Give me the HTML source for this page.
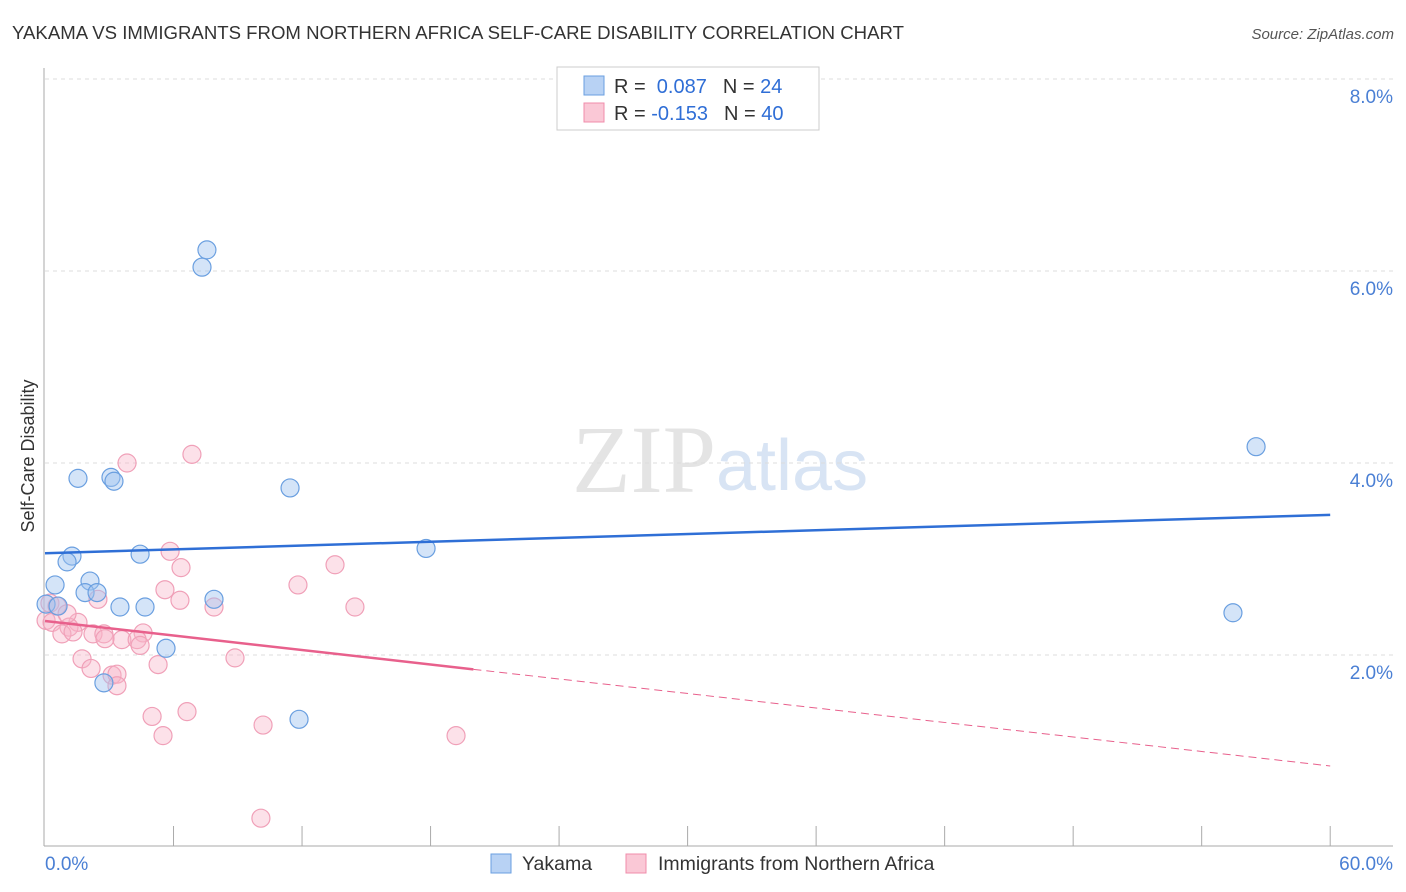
<!DOCTYPE html>
<html><head><meta charset="utf-8">
<style>
body{margin:0;background:#fff;font-family:"Liberation Sans",sans-serif;}
svg{display:block}
</style></head>
<body>
<svg id="chart" width="1406" height="892">
<text x="12" y="39" font-size="18.6" fill="#333">YAKAMA VS IMMIGRANTS FROM NORTHERN AFRICA SELF-CARE DISABILITY CORRELATION CHART</text>
<text x="1394" y="39" font-size="15" fill="#555" font-style="italic" text-anchor="end">Source: ZipAtlas.com</text>
<text x="716" y="492" font-size="96" fill="#e4e4e4" text-anchor="end" font-family="Liberation Serif,serif">ZIP</text>
<text x="716" y="490" font-size="72" fill="#d8e4f4">atlas</text>
<g id="grid"></g>
<g id="axes"></g>
<g id="marks"></g>
<text transform="translate(34,456) rotate(-90)" font-size="18" fill="#333" text-anchor="middle">Self-Care Disability</text>
<g>
<rect x="557" y="67" width="262" height="63" fill="#fff" stroke="#ccc"/>
<rect x="584" y="76" width="20" height="19" fill="#b8d2f4" stroke="#6a9fe0"/>
<rect x="584" y="103" width="20" height="19" fill="#fac8d6" stroke="#f08cab"/>
<text x="614" y="93" font-size="20" fill="#333">R = <tspan fill="#2f6ed6">&#160;0.087</tspan><tspan dx="16" fill="#333">N = </tspan><tspan fill="#2f6ed6"> 24</tspan></text>
<text x="614" y="120" font-size="20" fill="#333">R = <tspan fill="#2f6ed6">-0.153</tspan><tspan dx="16" fill="#333">N = </tspan><tspan fill="#2f6ed6"> 40</tspan></text>
</g>
<g>
<rect x="491" y="854" width="20" height="19" fill="#b8d2f4" stroke="#6a9fe0"/>
<text x="522" y="870" font-size="19.5" fill="#333">Yakama</text>
<rect x="626" y="854" width="20" height="19" fill="#fac8d6" stroke="#f08cab"/>
<text x="658" y="870" font-size="19.5" fill="#333">Immigrants from Northern Africa</text>
</g>
</svg>
<script>
const yTicks=[2,4,6,8];
const yTickLabels=["2.0%","4.0%","6.0%","8.0%"];
const xTickLabels=["0.0%","60.0%"];
const blueX=[7.56,7.33,1.54,3.08,3.22,11.44,56.54,4.44,1.26,1.03,17.79,0.47,2.10,1.87,2.43,0.05,0.61,3.50,4.67,7.89,5.65,2.75,11.86,55.46];
const blueY=[6.22,6.04,3.84,3.85,3.81,3.74,4.17,3.05,3.03,2.97,3.11,2.73,2.77,2.65,2.65,2.53,2.51,2.50,2.50,2.58,2.07,1.71,1.33,2.44];
const pinkX=[3.83,6.86,5.84,6.35,13.54,11.81,5.60,6.30,2.47,7.89,14.47,0.23,0.56,0.05,0.33,1.54,1.12,2.24,2.75,0.79,1.31,4.58,3.59,2.80,4.30,8.87,1.73,2.15,5.28,3.13,3.36,3.36,5.00,6.63,10.18,5.51,19.19,10.08,1.03,4.44];
const pinkY=[4.00,4.09,3.08,2.91,2.94,2.73,2.68,2.57,2.58,2.50,2.50,2.54,2.51,2.36,2.34,2.34,2.29,2.22,2.22,2.22,2.24,2.23,2.16,2.17,2.16,1.97,1.96,1.86,1.90,1.79,1.80,1.68,1.36,1.41,1.27,1.16,1.16,0.30,2.43,2.10];
const blueTrend=[3.06,3.46];
const pinkTrend=[2.354,0.844];
const pinkSolidEnd=20;
const NS="http://www.w3.org/2000/svg";
const X=v=>45+v*21.42, Y=v=>847-v*96;
function mk(tag,attrs,parent){const e=document.createElementNS(NS,tag);for(const k in attrs)e.setAttribute(k,attrs[k]);parent.appendChild(e);return e;}
const grid=document.getElementById('grid'),axes=document.getElementById('axes'),marks=document.getElementById('marks');
yTicks.forEach((t,i)=>{
 const l=mk('line',{x1:45,x2:1393,y1:Y(t),y2:Y(t),stroke:'#ddd','stroke-dasharray':'4,4'},grid);
 
 
 const tx=mk('text',{x:1393,y:Y(t)+24,'font-size':19,fill:'#4a7fd4','text-anchor':'end'},grid);
 tx.textContent=yTickLabels[i];
 
 
});
let a=mk('line',{x1:44,x2:44,y1:68,y2:846,stroke:'#aaa'},axes);


a=mk('line',{x1:44,x2:1393,y1:846,y2:846,stroke:'#aaa'},axes);


for(let i=1;i<=10;i++){
 const t=mk('line',{x1:X(i*6),x2:X(i*6),y1:826,y2:846,stroke:'#aaa'},axes);
 
 
}
[[0,'start',45],[60,'end',1393]].forEach((d,i)=>{
 const tx=mk('text',{x:d[2],y:870,'font-size':19,fill:'#4a7fd4','text-anchor':d[1]},axes);
 tx.textContent=xTickLabels[i];
 
 
});
function dot(x,y,fill,stroke,name){
 const c=mk('circle',{cx:X(x),cy:Y(y),r:9,fill:fill,stroke:stroke,'stroke-width':1.2},marks);
 
 
}
pinkX.forEach((x,i)=>dot(x,pinkY[i],'rgba(248,180,200,0.4)','#f0a0b8','pink-point'));
blueX.forEach((x,i)=>dot(x,blueY[i],'rgba(160,196,240,0.45)','#6a9fe0','blue-point'));
const pinkAt=x=>pinkTrend[0]+(pinkTrend[1]-pinkTrend[0])*x/60;
let l=mk('line',{x1:X(0),y1:Y(blueTrend[0]),x2:X(60),y2:Y(blueTrend[1]),stroke:'#2f6fd6','stroke-width':2.5},marks);


l=mk('line',{x1:X(0),y1:Y(pinkAt(0)),x2:X(pinkSolidEnd),y2:Y(pinkAt(pinkSolidEnd)),stroke:'#e8608c','stroke-width':2.5},marks);


l=mk('line',{x1:X(pinkSolidEnd),y1:Y(pinkAt(pinkSolidEnd)),x2:X(60),y2:Y(pinkAt(60)),stroke:'#e8608c','stroke-width':1,'stroke-dasharray':'8,5'},marks);


</script>
</body></html>
